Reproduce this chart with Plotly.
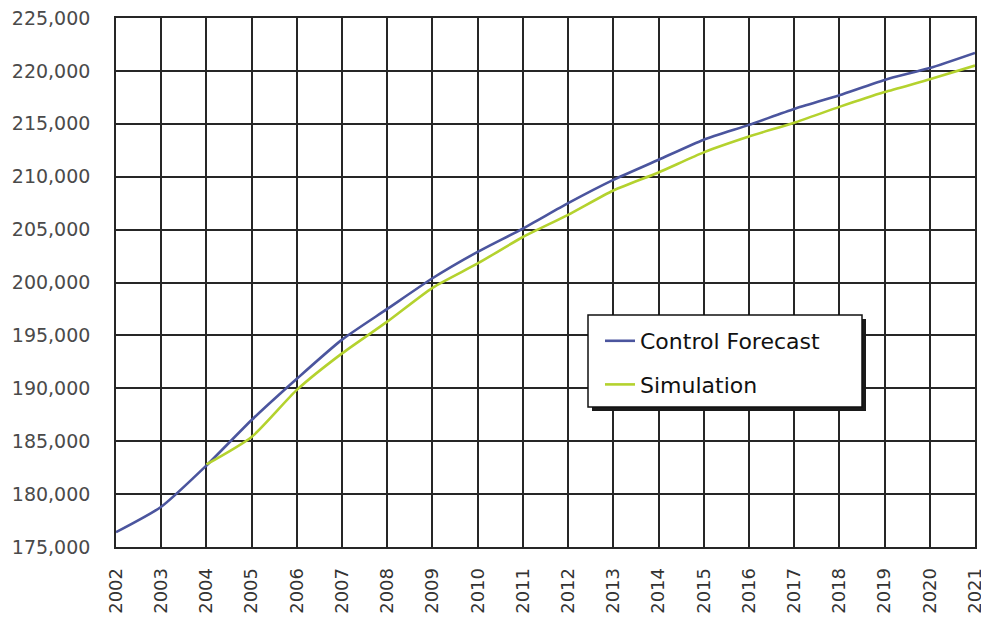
import plotly.graph_objects as go

years = [str(y) for y in range(2002, 2022)]

control_forecast = [176400, 178800, 182700, 187000, 190900, 194600, 197500, 200400,
                    202900, 205100, 207500, 209700, 211600, 213500, 214900, 216400,
                    217700, 219150, 220270, 221700]

# Simulation branches off the control run in 2004
sim_years = years[2:]
simulation = [182800, 185400, 189850, 193300, 196300, 199500, 201800, 204300,
              206400, 208700, 210400, 212300, 213800, 215100, 216600, 218000,
              219200, 220500]

y_ticks = list(range(175000, 225001, 5000))

fig = go.Figure()
fig.add_trace(go.Scatter(x=years, y=control_forecast, name="Control Forecast",
                         legendgroup="a", mode="lines",
                         line=dict(color="#4b559e", width=2.6, shape="spline", smoothing=0.6)))
fig.add_trace(go.Scatter(x=sim_years, y=simulation, name="Simulation",
                         legendgroup="b", mode="lines",
                         line=dict(color="#b4d22e", width=2.6, shape="spline", smoothing=0.6)))

grid = "#262626"
font = "DejaVu Sans, Verdana, sans-serif"
fig.update_xaxes(
    type="category", range=[0, 19], showgrid=True, gridcolor=grid, gridwidth=1.6,
    showline=True, linecolor=grid, linewidth=1.6, mirror=True, automargin=False,
    tickangle=-90, ticks="", ticklabelstandoff=12,
    tickfont=dict(family=font, size=18, color="#333"),
)
fig.update_yaxes(
    range=[175000, 225000], tickvals=y_ticks,
    ticktext=[f"{v:,}" for v in y_ticks], automargin=False,
    showgrid=True, gridcolor=grid, gridwidth=1.6,
    showline=True, linecolor=grid, linewidth=1.6, mirror=True,
    ticks="", ticklabelstandoff=20, zeroline=False,
    tickfont=dict(family=font, size=19, color="#4a4a4a"),
)


def px_x(px):
    return (px - 116) / 859


def px_y(py):
    return (547 - py) / 529


# legend frame: drop shadow, then white box with a dark border
fig.add_shape(type="rect", xref="paper", yref="paper",
              x0=px_x(592), x1=px_x(866), y0=px_y(411), y1=px_y(319),
              fillcolor="#1a1a1a", line=dict(width=0), layer="above")
fig.add_shape(type="rect", xref="paper", yref="paper",
              x0=px_x(588), x1=px_x(862), y0=px_y(407), y1=px_y(315),
              fillcolor="white", line=dict(color="#111", width=1.5), layer="above")

fig.update_layout(
    width=981, height=623,
    margin=dict(l=116, r=6, t=18, b=76),
    paper_bgcolor="white", plot_bgcolor="white",
    showlegend=True,
    legend=dict(x=px_x(600), y=px_y(320), xanchor="left", yanchor="top",
                bgcolor="rgba(0,0,0,0)", borderwidth=0,
                font=dict(family=font, size=22, color="#111"),
                itemwidth=30, tracegroupgap=12),
)

fig.write_html("out.html")
